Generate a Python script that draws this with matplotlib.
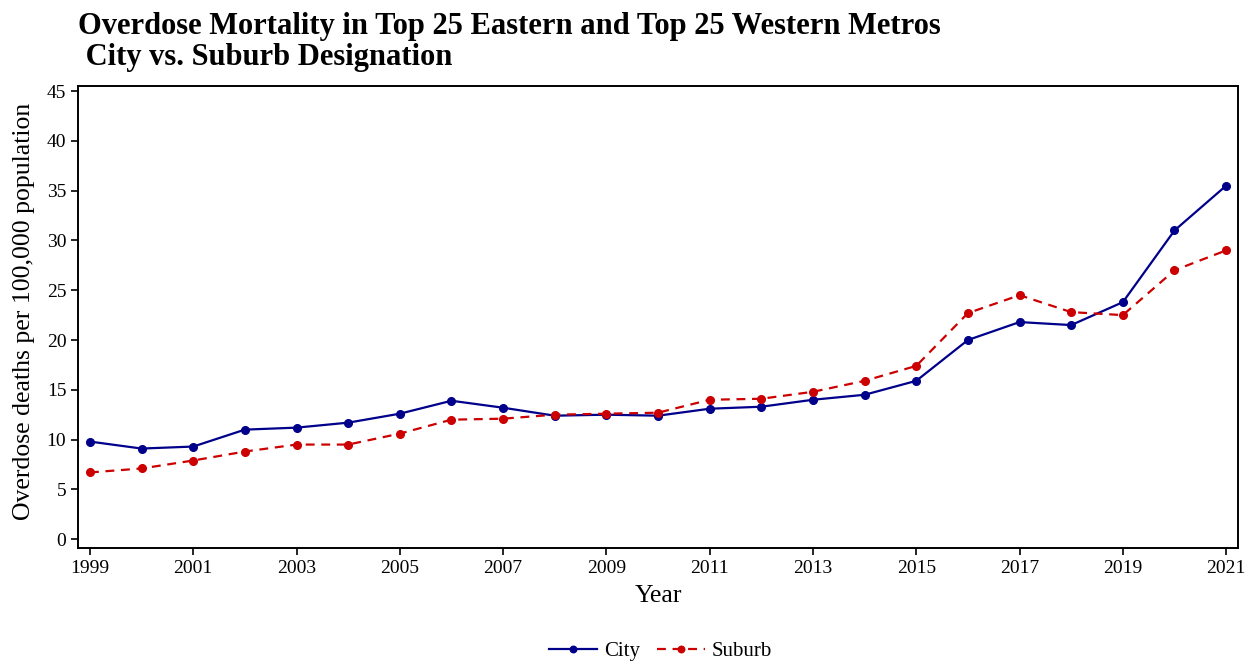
import matplotlib
matplotlib.use("Agg")
import matplotlib.pyplot as plt
import numpy as np

years = list(range(1999, 2022))
city = [9.8, 9.1, 9.3, 11.0, 11.2, 11.7, 12.6, 13.9, 13.2, 12.4, 12.5, 12.4,
        13.1, 13.3, 14.0, 14.5, 15.9, 20.0, 21.8, 21.5, 23.8, 31.0, 35.5]
suburb = [6.7, 7.1, 7.9, 8.8, 9.5, 9.5, 10.6, 12.0, 12.1, 12.5, 12.6, 12.7,
          14.0, 14.1, 14.8, 15.9, 17.4, 22.7, 24.5, 22.8, 22.5, 27.0, 29.0]
xticks = list(range(1999, 2022, 2))
yticks = list(range(0, 46, 5))

plt.rcParams["font.family"] = ["Liberation Serif", "DejaVu Serif"]

fig = plt.figure(figsize=(12.47, 6.62), dpi=100)
ax = fig.add_axes([0.0626, 0.172, 0.9302, 0.698])

ax.plot(years, city, color="#00008B", lw=1.6, marker="o", ms=5.5, label="City")
ax.plot(years, suburb, color="#CC0000", lw=1.6, ls=(0, (4, 3)), marker="o", ms=5.5,
        label="Suburb")

ax.set_xlim(1999 - 0.23, 2021 + 0.23)
ax.set_ylim(-0.9, 45.5)
ax.set_xticks(xticks)
ax.set_yticks(yticks)
ax.tick_params(labelsize=14, length=5, width=1.2, direction="out", colors="black")
for s in ax.spines.values():
    s.set_linewidth(1.4)

ax.set_xlabel("Year", fontsize=18.5, labelpad=6)
ax.set_ylabel("Overdose deaths per 100,000 population", fontsize=18.5)
ax.yaxis.set_label_coords(-0.037, 0.513)

fig.text(0.0626, 0.982, "Overdose Mortality in Top 25 Eastern and Top 25 Western Metros\n City vs. Suburb Designation",
         fontsize=22, fontweight="bold", ha="left", va="top", linespacing=1.1)

leg = fig.legend(loc="lower center", bbox_to_anchor=(0.5297, -0.027), ncol=2, frameon=False,
                 fontsize=15, handlelength=2.3, handletextpad=0.35, columnspacing=0.8,
                 markerscale=0.85)

fig.savefig("out.png", dpi=100)
